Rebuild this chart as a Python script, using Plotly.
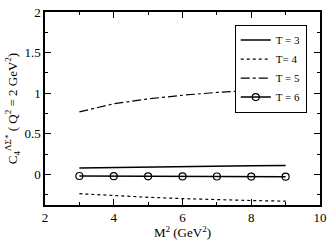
import plotly.graph_objects as go

m2 = [3, 4, 5, 6, 7, 8, 9]
t3 = [0.078, 0.085, 0.092, 0.098, 0.103, 0.107, 0.110]
t4 = [-0.238, -0.262, -0.282, -0.298, -0.312, -0.322, -0.330]
t5 = [0.770, 0.870, 0.930, 0.975, 1.010, 1.035, 1.050]
t6 = [-0.020, -0.022, -0.024, -0.025, -0.026, -0.027, -0.028]

fam = "Times New Roman, Liberation Serif, serif"
font = dict(family=fam, size=13, color="black")

fig = go.Figure()
fig.add_trace(go.Scatter(x=m2, y=t3, mode="lines", name="T = 3",
                         line=dict(color="black", width=1.5)))
fig.add_trace(go.Scatter(x=m2, y=t4, mode="lines", name="T= 4",
                         line=dict(color="black", width=1.2, dash="dot")))
fig.add_trace(go.Scatter(x=m2, y=t5, mode="lines", name="T = 5",
                         line=dict(color="black", width=1.2, dash="dashdot")))
fig.add_trace(go.Scatter(x=m2, y=t6, mode="lines+markers", name="T = 6",
                         line=dict(color="black", width=1.5),
                         marker=dict(symbol="circle-open", size=7, color="black",
                                     line=dict(width=1.2))))

axis_common = dict(showline=True, linecolor="black", linewidth=1.5, mirror="ticks",
                   ticks="inside", tickcolor="black", ticklen=6, showgrid=False,
                   zeroline=False, tickfont=font, ticklabeloverflow="allow")
fig.update_xaxes(range=[2, 10], dtick=2, tick0=2,
                 minor=dict(dtick=1, ticks="inside", ticklen=3, tickcolor="black"),
                 title=dict(text="M<sup>2</sup> (GeV<sup>2</sup>)", font=font, standoff=0),
                 **axis_common)
fig.update_yaxes(range=[-0.377, 2.0005], dtick=0.5, tick0=0,
                 minor=dict(dtick=0.25, ticks="inside", ticklen=3, tickcolor="black"),
                 title=dict(text="C<sub>4</sub><sup>ΛΣ*</sup> ( Q<sup>2</sup> = 2 GeV<sup>2</sup>)",
                            font=font, standoff=4),
                 **axis_common)

fig.update_layout(
    width=332, height=240,
    margin=dict(l=45, r=9, t=5, b=35),
    plot_bgcolor="white", paper_bgcolor="white",
    font=font,
    showlegend=True,
    legend=dict(x=0.69, y=0.935, xanchor="left", yanchor="top",
                bordercolor="black", borderwidth=1, bgcolor="white",
                font=dict(family=fam, size=11, color="black"),
                itemwidth=30, tracegroupgap=0),
)

fig.write_html("out.html", config={"displayModeBar": False},
               post_script="document.body.style.margin='0';document.body.style.padding='0';")
